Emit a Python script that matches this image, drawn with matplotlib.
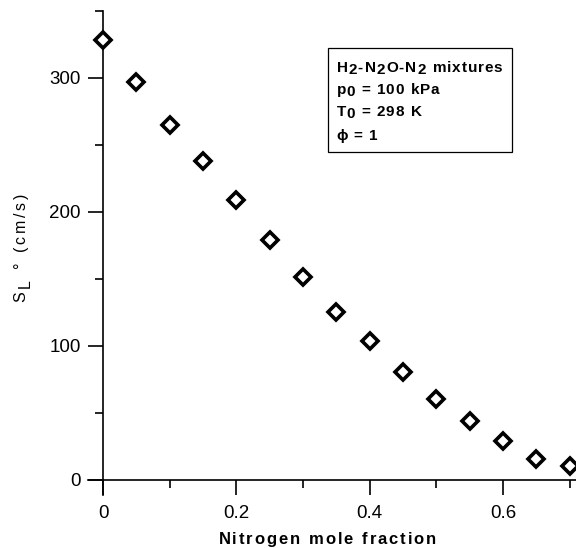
import matplotlib.pyplot as plt
import matplotlib._mathtext as mathtext_internals
from matplotlib.patches import Rectangle

# nitrogen dilution data
n2_fraction = [0.0, 0.05, 0.1, 0.15, 0.2, 0.25, 0.3, 0.35, 0.4, 0.45, 0.5, 0.55, 0.6, 0.65, 0.7]
flame_speed = [328.5, 297.3, 265.0, 237.8, 208.7, 179.1, 151.7, 125.1, 103.7, 80.3, 60.4, 43.8, 28.9, 15.7, 10.7]

x_major = [0, 0.2, 0.4, 0.6]
x_major_labels = ['0', '0.2', '0.4', '0.6']
x_minor = [0.1, 0.3, 0.5, 0.7]
y_major = [0, 100, 200, 300]
y_minor = [50, 150, 250, 350]

SUB2 = r'$_\mathregular{2}$'
SUB0 = r'$_\mathregular{0}$'
legend_lines = [
    ['H', SUB2, '-N', SUB2, 'O-N', SUB2, ' mixtures'],
    ['p', SUB0, ' = 100 kPa'],
    ['T', SUB0, ' = 298 K'],
    ['\u03d5 = 1'],
]

plt.rcParams['font.family'] = ['Liberation Sans', 'DejaVu Sans']
plt.rcParams['mathtext.fontset'] = 'custom'
plt.rcParams['mathtext.rm'] = 'Liberation Sans'
plt.rcParams['mathtext.it'] = 'Liberation Sans'
# the original keeps subscripts at full size, only lowered
mathtext_internals.SHRINK_FACTOR = 1.0


# matplotlib has no letter spacing, so put a small math space between glyphs
def spread(tokens, em):
    pieces = []
    for t in tokens:
        if t.startswith('$'):
            pieces.append(t)
        else:
            pieces.extend(list(t))
    return (r'$\hspace{%g}$' % em).join(pieces)


fig = plt.figure(figsize=(5.76, 5.48), dpi=100)
ax = fig.add_axes([0.1528, 0.0973, 0.8472, 0.8827])

ax.plot(n2_fraction, flame_speed, linestyle='none', marker='D', ms=8,
        mfc='white', mec='black', mew=2.6, clip_on=False, zorder=5)

ax.set_xlim(-0.0225, 0.7095)
ax.set_ylim(-11, 350)

for s in ['top', 'right']:
    ax.spines[s].set_visible(False)
ax.spines['left'].set_position(('data', 0))
ax.spines['bottom'].set_position(('data', 0))
ax.spines['left'].set_linewidth(1.2)
ax.spines['bottom'].set_linewidth(1.2)

ax.set_xticks(x_major)
ax.set_xticklabels(x_major_labels)
ax.set_xticks(x_minor, minor=True)
ax.set_yticks(y_major)
ax.set_yticks(y_minor, minor=True)
ax.tick_params(which='major', direction='out', length=11, width=1.2, labelsize=13.5)
ax.tick_params(which='minor', direction='out', length=5.5, width=1.2)
ax.tick_params(axis='x', which='major', pad=7)
ax.tick_params(axis='y', which='major', pad=5)

ax.set_xlabel(spread(['Nitrogen mole fraction'], 0.14), fontsize=12, fontweight='bold', va='top')
ax.xaxis.set_label_coords(0.491, -0.073)
ax.set_ylabel(spread(['S', r'$_{_\mathregular{L}}$', ' \u00b0 (cm/s)'], 0.21), fontsize=11.5)
ax.yaxis.set_label_coords(-0.11, 0.51)

# annotation box
fig.add_artist(Rectangle((0.5694, 0.7226), 0.3194, 0.1898, transform=fig.transFigure,
                         fc='white', ec='black', lw=0.9, zorder=10))
baselines = [0.868, 0.8277, 0.7874, 0.7454]
for line, yb in zip(legend_lines, baselines):
    fig.text(0.5833, yb, spread(line, 0.075), fontsize=11, fontweight='bold',
             va='baseline', ha='left', zorder=11)

fig.savefig('out.png', dpi=100)
